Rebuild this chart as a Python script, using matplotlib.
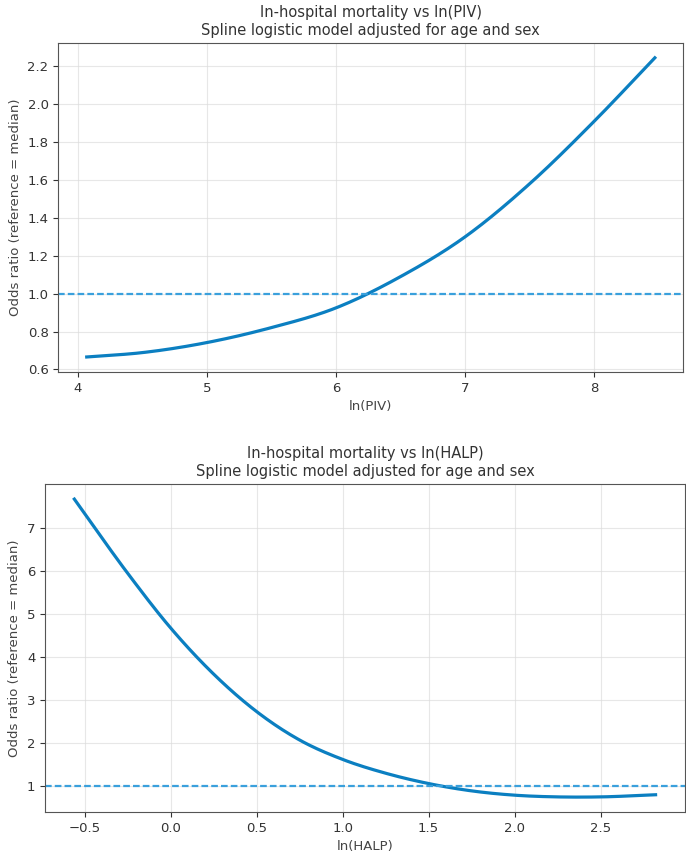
import numpy as np
import matplotlib
matplotlib.use("Agg")
import matplotlib.pyplot as plt

# values (odds ratio vs log marker)
piv_x = [4.07, 4.5, 5.0, 5.5, 6.0, 6.5, 7.0, 7.5, 8.0, 8.47]
piv_or = [0.666, 0.689, 0.742, 0.821, 0.925, 1.09, 1.30, 1.58, 1.91, 2.245]

halp_x = [-0.56, -0.25, 0.0, 0.25, 0.5, 0.75, 1.0, 1.25, 1.5, 1.75, 2.0, 2.25, 2.5, 2.82]
halp_or = [7.66, 5.94, 4.67, 3.60, 2.73, 2.07, 1.62, 1.30, 1.06, 0.89, 0.79, 0.75, 0.75, 0.80]

line_col = "#0b7fc1"
ref_col = "#3aa0dc"


def smooth(x, y, n=300):
    # cubic hermite through the read points, just for a smooth drawn line
    x = np.asarray(x, float)
    y = np.asarray(y, float)
    xs = np.linspace(x[0], x[-1], n)
    m = np.gradient(y, x)
    ys = np.empty_like(xs)
    for k, xv in enumerate(xs):
        i = min(np.searchsorted(x, xv, side="right") - 1, len(x) - 2)
        h = x[i + 1] - x[i]
        t = (xv - x[i]) / h
        h00 = 2 * t**3 - 3 * t**2 + 1
        h10 = t**3 - 2 * t**2 + t
        h01 = -2 * t**3 + 3 * t**2
        h11 = t**3 - t**2
        ys[k] = h00 * y[i] + h10 * h * m[i] + h01 * y[i + 1] + h11 * h * m[i + 1]
    return xs, ys


def panel(ax, x, y, name, yticks):
    xs, ys = smooth(x, y)
    ax.plot(xs, ys, color=line_col, lw=2.3)
    ax.axhline(1.0, color=ref_col, lw=1.6, ls=(0, (3, 1.4)))
    ax.set_title("In-hospital mortality vs ln(%s)\nSpline logistic model adjusted for age and sex" % name,
                 fontsize=10.5, color="#333333")
    ax.set_xlabel("ln(%s)" % name, fontsize=9.5, color="#444444")
    ax.set_ylabel("Odds ratio (reference = median)", fontsize=9.5, color="#444444")
    ax.set_yticks(yticks)
    ax.grid(True, color="#dddddd", lw=0.8, alpha=0.7)
    ax.tick_params(labelsize=9.5, colors="#333333")
    for s in ax.spines.values():
        s.set_color("#555555")


fig = plt.figure(figsize=(6.86, 8.57), dpi=100)
ax1 = fig.add_axes([0.085, 0.566, 0.911, 0.384])
ax2 = fig.add_axes([0.066, 0.0525, 0.932, 0.3825])

panel(ax1, piv_x, piv_or, "PIV", [0.6, 0.8, 1.0, 1.2, 1.4, 1.6, 1.8, 2.0, 2.2])
ax1.set_xticks([4, 5, 6, 7, 8])

panel(ax2, halp_x, halp_or, "HALP", [1, 2, 3, 4, 5, 6, 7])
ax2.set_xticks([-0.5, 0.0, 0.5, 1.0, 1.5, 2.0, 2.5])

fig.savefig("out.png", dpi=100)
